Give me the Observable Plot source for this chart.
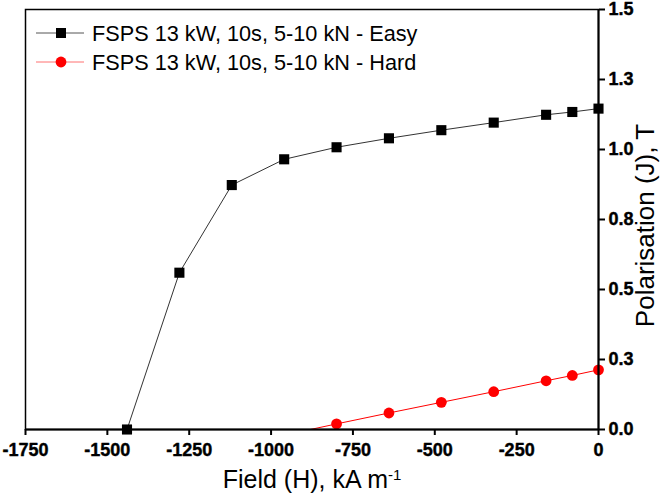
<!DOCTYPE html>
<html>
<head>
<meta charset="utf-8">
<script src="https://cdn.jsdelivr.net/npm/d3@7"></script>
<script src="https://cdn.jsdelivr.net/npm/@observablehq/plot@0.6"></script>
<style>
  html, body { margin: 0; padding: 0; background: #fff; }
  #wrap { position: relative; width: 666px; height: 498px; font-family: "Liberation Sans", Arial, sans-serif; }
  #legend { position: absolute; left: 0; top: 0; }
</style>
</head>
<body>
<div id="wrap"></div>
<script>
// Data
const fieldEasy = [-1440, -1280, -1120, -960, -800, -640, -480, -320, -160, -80, 0];
const polEasy   = [0.0, 0.560, 0.873, 0.965, 1.008, 1.040, 1.069, 1.096, 1.124, 1.134, 1.146];
const fieldHard = [-960, -800, -640, -480, -320, -160, -80, 0];
const polHard   = [-0.020, 0.020, 0.059, 0.097, 0.135, 0.174, 0.193, 0.213];
const seriesNames = ["FSPS 13 kW, 10s, 5-10 kN - Easy", "FSPS 13 kW, 10s, 5-10 kN - Hard"];
const xTicks = [-1750, -1500, -1250, -1000, -750, -500, -250, 0];
const yTicks = [0, 0.25, 0.5, 0.75, 1.0, 1.25, 1.5];

const easy = fieldEasy.map((x, i) => ({x, y: polEasy[i]}));
const hard = fieldHard.map((x, i) => ({x, y: polHard[i]}));

const xFmt = d => String(d);
const yFmt = d => d.toFixed(1);

const W = 666, H = 498;
const chart = Plot.plot({
  width: W, height: H,
  marginLeft: 25, marginRight: 68, marginTop: 9, marginBottom: 69,
  style: {fontFamily: "Liberation Sans, Arial, sans-serif", background: "white", overflow: "visible"},
  x: {domain: [-1750, 0]},
  y: {domain: [0, 1.5]},
  marks: [
    Plot.line(hard, {x: "x", y: "y", stroke: "#ff0000", strokeWidth: 1, clip: true}),
    Plot.line(easy, {x: "x", y: "y", stroke: "#333", strokeWidth: 1}),
    Plot.dot(hard.filter(d => d.y >= 0), {x: "x", y: "y", r: 5.4, fill: "#ff0000", stroke: "none"}),
    Plot.dot(easy, {x: "x", y: "y", symbol: "square", r: 5.7, fill: "#000", stroke: "none"}),
    Plot.frame({stroke: "#000", strokeWidth: 1.5}),
    Plot.axisX({ticks: xTicks, tickFormat: () => "", tickSize: 6, stroke: "#000", strokeWidth: 2, label: null}),
    Plot.axisY({anchor: "right", ticks: yTicks, tickFormat: () => "", tickSize: 6, stroke: "#000", strokeWidth: 2, label: null}),
    Plot.text(xTicks, {x: d => d, text: xFmt, frameAnchor: "bottom", dy: 26, fontSize: 18, fontWeight: "bold", fill: "#000", stroke: "#000", strokeWidth: 0.4}),
    Plot.text(yTicks, {y: d => d, text: yFmt, frameAnchor: "right", textAnchor: "start", dx: 10, fontSize: 18, fontWeight: "bold", fill: "#000", stroke: "#000", strokeWidth: 0.4}),
    Plot.ruleX([0], {stroke: "#000", strokeWidth: 2}),
    Plot.ruleY([0], {stroke: "#000", strokeWidth: 2}),
    Plot.text(["Field (H), kA m"], {frameAnchor: "bottom", dy: 58, fontSize: 25, fill: "#000"}),
    Plot.text(["Polarisation (J), T"], {frameAnchor: "right", textAnchor: "middle", dx: 47, dy: 6, rotate: -90, fontSize: 26, fill: "#000"})
  ]
});
chart.querySelectorAll("text").forEach(t => {
  if (t.textContent === "Field (H), kA m") {
    const s = document.createElementNS("http://www.w3.org/2000/svg", "tspan");
    s.setAttribute("baseline-shift", "super");
    s.setAttribute("font-size", "15");
    s.textContent = "-1";
    t.querySelector("tspan") ? t.querySelector("tspan").appendChild(s) : t.appendChild(s);
  }
});
document.getElementById("wrap").appendChild(chart);

// Legend (drawn inside plot frame, top-left)
const NS = "http://www.w3.org/2000/svg";
const leg = document.createElementNS(NS, "svg");
leg.setAttribute("id", "legend");
leg.setAttribute("width", 440);
leg.setAttribute("height", 80);
const colors = ["#555", "#ff7070"];
const markFill = ["#000", "#ff0000"];
seriesNames.forEach((name, i) => {
  const y = 33 + i * 29;
  const ln = document.createElementNS(NS, "line");
  ln.setAttribute("x1", 36); ln.setAttribute("x2", 84);
  ln.setAttribute("y1", y); ln.setAttribute("y2", y);
  ln.setAttribute("stroke", colors[i]); ln.setAttribute("stroke-width", 1);
  leg.appendChild(ln);
  if (i === 0) {
    const r = document.createElementNS(NS, "rect");
    r.setAttribute("x", 61 - 5); r.setAttribute("y", y - 5);
    r.setAttribute("width", 10); r.setAttribute("height", 10);
    r.setAttribute("fill", markFill[i]);
    leg.appendChild(r);
  } else {
    const c = document.createElementNS(NS, "circle");
    c.setAttribute("cx", 61); c.setAttribute("cy", y); c.setAttribute("r", 5.4);
    c.setAttribute("fill", markFill[i]);
    leg.appendChild(c);
  }
  const t = document.createElementNS(NS, "text");
  t.setAttribute("x", 92); t.setAttribute("y", y);
  t.setAttribute("dy", "0.35em");
  t.setAttribute("font-size", 21.7);
  t.setAttribute("font-family", "Liberation Sans, Arial, sans-serif");
  t.setAttribute("fill", "#000");
  t.textContent = name;
  leg.appendChild(t);
});
document.getElementById("wrap").appendChild(leg);
</script>
</body>
</html>
